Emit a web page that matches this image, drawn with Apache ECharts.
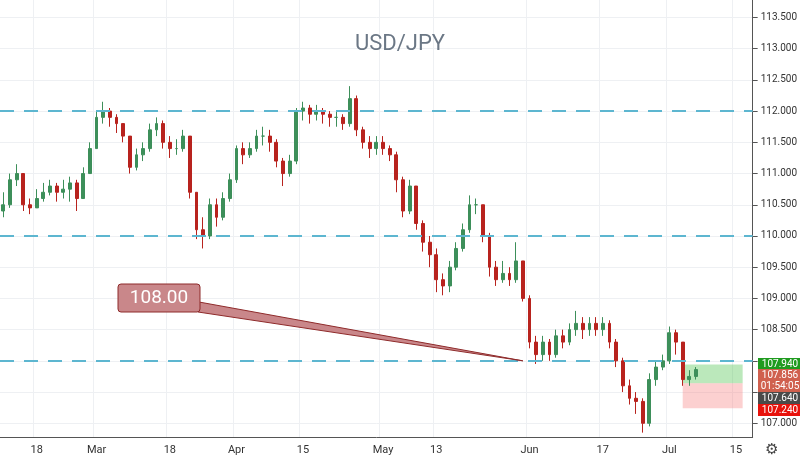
<!DOCTYPE html>
<html><head><meta charset="utf-8">
<script src="https://cdn.jsdelivr.net/npm/echarts@6/dist/echarts.min.js"></script>
<style>html,body{margin:0;padding:0;background:#fff}#c{width:800px;height:462px}</style>
</head><body><div id="c"></div>
<script>
const firstOpen = 110.4;
const closes = [110.5,110.9,111.0,110.5,110.45,110.6,110.7,110.8,110.7,110.75,
110.85,110.6,111.0,111.4,111.9,112.0,111.9,111.8,111.6,111.1,
111.3,111.4,111.7,111.8,111.5,111.4,111.4,111.6,110.7,110.1,
110.0,110.5,110.3,110.6,110.9,111.4,111.3,111.4,111.6,111.6,
111.5,111.2,111.0,111.2,112.0,112.05,111.95,112.0,111.95,111.9,
111.9,111.8,112.2,111.7,111.5,111.4,111.5,111.4,111.3,110.9,
110.4,110.8,110.2,109.9,109.7,109.3,109.2,109.5,109.8,110.1,
110.5,110.5,110.0,109.5,109.3,109.4,109.3,109.6,109.0,108.3,
108.1,108.3,108.1,108.4,108.3,108.5,108.6,108.5,108.6,108.5,
108.6,108.3,108.0,107.6,107.4,107.35,107.0,107.7,107.9,108.0,
108.45,108.3,107.7,107.75,107.86];
const highs = [110.7,111.0,111.15,111.0,110.6,110.75,110.85,110.9,110.85,110.9,
110.95,110.9,111.1,111.5,112.0,112.15,112.05,111.95,111.8,111.6,
111.4,111.5,111.8,111.9,111.85,111.6,111.55,111.7,111.6,110.7,
110.3,110.6,110.6,110.7,111.0,111.45,111.5,111.5,111.7,111.75,
111.7,111.55,111.25,111.3,112.05,112.15,112.1,112.1,112.05,112.0,
112.0,111.95,112.4,112.25,111.75,111.6,111.6,111.6,111.45,111.35,
110.95,110.9,110.8,110.25,110.0,109.8,109.4,109.6,109.9,110.2,
110.65,110.6,110.5,110.05,109.6,109.6,109.5,109.9,109.6,109.05,
108.4,108.4,108.35,108.5,108.5,108.6,108.8,108.7,108.7,108.7,
108.7,108.65,108.35,108.05,107.7,107.5,107.4,107.8,108.0,108.1,
108.55,108.5,108.3,107.85,107.9];
const lows = [110.3,110.45,110.8,110.4,110.35,110.45,110.55,110.65,110.55,110.6,
110.55,110.4,110.6,111.0,111.4,111.8,111.75,111.65,111.5,111.0,
111.05,111.2,111.35,111.6,111.4,111.25,111.3,111.35,110.6,109.95,
109.8,109.95,110.15,110.25,110.55,110.85,111.15,111.25,111.35,111.45,
111.35,111.1,110.8,110.95,111.15,111.85,111.8,111.85,111.8,111.75,
111.75,111.7,111.75,111.6,111.4,111.25,111.3,111.3,111.2,110.7,
110.3,110.35,110.1,109.75,109.5,109.1,109.05,109.1,109.45,109.75,
110.05,110.35,109.9,109.35,109.2,109.25,109.2,109.25,108.95,108.2,
107.95,108.0,108.0,108.05,108.2,108.25,108.4,108.35,108.4,108.4,
108.4,108.2,107.9,107.5,107.3,107.15,106.85,106.95,107.6,107.85,
107.95,108.1,107.6,107.6,107.7];
const startDate = '2019-02-11', endDate = '2019-07-17';
const tickLabels = {'2019-02-18':'18','2019-03-01':'Mar','2019-03-18':'18','2019-04-01':'Apr','2019-04-15':'15',
 '2019-05-01':'May','2019-05-13':'13','2019-05-31':'Jun','2019-06-17':'17','2019-07-01':'Jul','2019-07-15':'15'};
const priceTicks = [107.0,107.5,108.0,108.5,109.0,109.5,110.0,110.5,111.0,111.5,112.0,112.5,113.0,113.5];
const priceLabels = [107.0,108.5,109.0,109.5,110.0,110.5,111.0,111.5,112.0,112.5,113.0,113.5];
const levels = [112.0, 110.0, 108.0];
const targetTop = 107.94, entry = 107.64, stop = 107.24;
const zoneStart = '2019-07-03', zoneEnd = '2019-07-16';
const calloutText = '108.00', calloutDate = '2019-05-30', calloutPrice = 108.0;
const tags = [['107.940','#1f9b1f',364],['107.856','#d0604e',375],['01:54:05','#d0604e',386],['107.640','#4a4a4a',398],['107.240','#e8120c',410]];

const dates = [];
for (let d = new Date(startDate+'T00:00:00Z'); d <= new Date(endDate+'T00:00:00Z'); d.setUTCDate(d.getUTCDate()+1)) {
  const w = d.getUTCDay(); if (w===0||w===6) continue;
  dates.push(d.toISOString().slice(0,10));
}
const ohlc = dates.map((dt,i)=> i<closes.length ? [i===0?firstOpen:closes[i-1], closes[i], lows[i], highs[i]] : '-');
const showTick = (i,v)=> v in tickLabels;

const chart = echarts.init(document.getElementById('c'));
chart.setOption({
  animation:false,
  grid:{left:0,right:45,top:0,bottom:25},
  title:{text:'USD/JPY',left:'center',top:28,textStyle:{fontFamily:'Roboto',fontSize:22,fontWeight:'normal',color:'#6b7785'}},
  xAxis:{type:'category',data:dates,boundaryGap:true,
    axisLine:{lineStyle:{color:'#555'}},
    axisTick:{interval:showTick,alignWithLabel:true,lineStyle:{color:'#555'}},
    axisLabel:{interval:showTick,formatter:v=>tickLabels[v]||'',color:'#333',fontSize:11,fontFamily:'Roboto'},
    splitLine:{show:true,interval:showTick,lineStyle:{color:'#eef0f3'}}},
  yAxis:{type:'value',position:'right',min:106.78,max:113.78,
    axisLine:{show:true,lineStyle:{color:'#555'}},
    axisTick:{show:true,customValues:priceTicks,lineStyle:{color:'#555'}},
    axisLabel:{customValues:priceLabels,formatter:v=>v.toFixed(3),color:'#333',fontSize:10,fontFamily:'Roboto'},
    splitLine:{show:true,lineStyle:{color:'#eef0f3'}}},
  series:[{type:'candlestick',data:ohlc,barWidth:'50%',
    itemStyle:{color:'#3d8f5a',color0:'#b8231e',borderColor:'#3d8f5a',borderColor0:'#b8231e'},
    markLine:{silent:true,symbol:'none',label:{show:false},
      lineStyle:{color:'#5db6d0',type:[14,10],width:2},
      data:levels.map(v=>({yAxis:v}))},
    markArea:{silent:true,data:[
      [{xAxis:zoneStart,yAxis:targetTop,itemStyle:{color:'rgba(60,190,60,0.35)'}},{xAxis:zoneEnd,yAxis:entry}],
      [{xAxis:zoneStart,yAxis:entry,itemStyle:{color:'rgba(245,120,120,0.35)'}},{xAxis:zoneEnd,yAxis:stop}]
    ]}
  }]
});
const tp = chart.convertToPixel({xAxisIndex:0,yAxisIndex:0},[calloutDate,calloutPrice]);
const g = [
  {type:'polygon',shape:{points:[[188,300],[198,312],[tp[0],tp[1]]]},style:{fill:'#c9878a',stroke:'#8e2a2a',lineWidth:1},z:10},
  {type:'rect',shape:{x:118,y:284,width:82,height:28,r:3},style:{fill:'#c9878a',stroke:'#8e2a2a',lineWidth:1},z:11},
  {type:'text',x:159,y:298,style:{text:calloutText,fill:'#fff',fontSize:19,fontFamily:'Roboto',align:'center',verticalAlign:'middle'},z:12},
  {type:'text',x:771,y:450,style:{text:'⚙',fill:'#444',fontSize:15,align:'center',verticalAlign:'middle'},z:12}
];
tags.forEach(([t,c,y])=>{
  g.push({type:'rect',shape:{x:758,y:y-6,width:42,height:12},style:{fill:c},z:12});
  g.push({type:'text',x:780,y:y,style:{text:t,fill:'#fff',fontSize:10,fontFamily:'Roboto',align:'center',verticalAlign:'middle'},z:13});
});
chart.setOption({graphic:g});
</script></body></html>
